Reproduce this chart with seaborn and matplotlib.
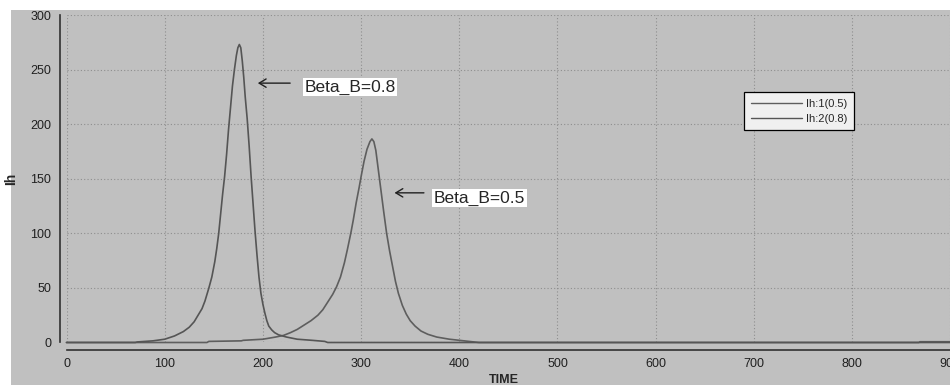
import numpy as np
import pandas as pd
import matplotlib
matplotlib.use("Agg")
import matplotlib.pyplot as plt
from matplotlib.patches import Rectangle
import seaborn as sns

# Valeurs
time_05 = [0, 143, 145, 178, 180, 200, 213, 221, 228, 235, 242, 249, 256, 261, 266, 271,
           275, 279, 283, 286, 289.5, 292, 295, 298, 300, 303, 306, 309, 311, 313, 315,
           317, 319, 321, 323, 326, 329, 332, 335, 338, 342, 346, 350, 355, 361, 368,
           377, 390, 405, 415, 420, 868, 869, 900]
ih_05 = [0, 0, 1, 1.5, 2, 3, 5, 6.5, 9, 12, 16, 20, 25, 30, 37, 44,
         51, 60, 73, 85, 100, 112, 128, 142, 152, 166, 177, 184, 186.5, 184, 176,
         162, 148, 134, 120, 100, 84, 70, 56, 45, 34, 26, 20, 15, 10.5, 7.5,
         5, 3, 1.5, 0.5, 0, 0, 0.7, 0.7]

time_08 = [0, 70, 72, 88, 100, 110, 119, 125, 130, 134, 138, 141, 145, 148, 151, 153,
           155, 157, 159, 161, 163, 165, 167, 169, 171, 173, 174.5, 176, 177.5, 179,
           180.5, 182, 184, 186, 188, 190, 192, 194, 196, 198, 200, 202, 204, 206,
           209, 212, 216, 224, 235, 250, 263, 266, 900]
ih_08 = [0, 0, 0.5, 1.5, 3, 6, 10, 14, 19, 25, 31, 38, 50, 60, 74, 86,
         100, 118, 136, 152, 172, 195, 215, 235, 250, 263, 270, 273, 270, 258,
         243, 225, 205, 180, 152, 127, 102, 80, 60, 45, 35, 27, 20, 15,
         11.5, 9, 7, 5, 3, 2, 1, 0, 0]

labels = ["Ih:1(0.5)", "Ih:2(0.8)"]

df = pd.concat([
    pd.DataFrame({"TIME": time_05, "Ih": ih_05, "serie": labels[0]}),
    pd.DataFrame({"TIME": time_08, "Ih": ih_08, "serie": labels[1]}),
])

sns.set_style("white")
plt.rcParams["font.family"] = ["Liberation Sans", "DejaVu Sans"]

fig = plt.figure(figsize=(9.5, 3.85), dpi=100, facecolor="white")
fig.add_artist(Rectangle((11 / 950, 0), 1, 1 - 10 / 385, transform=fig.transFigure,
                         facecolor="#c0c0c0", edgecolor="none", zorder=-10))
ax = fig.add_axes([0.07, 0.1104, 0.9303, 0.8506])
ax.set_facecolor("#c0c0c0")

sns.lineplot(data=df, x="TIME", y="Ih", hue="serie", palette=["#5e5e5e", "#555555"],
             sort=False, estimator=None, linewidth=1.2, ax=ax, clip_on=False)

ax.set_xlim(0, 900)
ax.set_ylim(0, 300)
ax.set_xticks(range(0, 901, 100))
ax.set_yticks(range(0, 301, 50))
ax.grid(True, color="#8e8e8e", linestyle=(0, (1, 2)), linewidth=0.8)
ax.set_axisbelow(True)

for s in ["top", "right"]:
    ax.spines[s].set_visible(False)
ax.spines["left"].set_position(("outward", 5))
ax.spines["bottom"].set_position(("outward", 5.5))
ax.spines["left"].set_color("#303030")
ax.spines["bottom"].set_color("#303030")
ax.spines["left"].set_linewidth(1.2)
ax.spines["bottom"].set_linewidth(1.2)
ax.tick_params(axis="both", direction="out", length=4, width=1, color="#303030",
               labelsize=9, labelcolor="#202020")
ax.tick_params(axis="x", pad=1.5)
ax.tick_params(axis="y", pad=2)

ax.set_xlabel("TIME", fontweight="bold", fontsize=9, labelpad=0)
ax.xaxis.set_label_coords(0.495, -0.095)
ax.set_ylabel("Ih", fontweight="bold", fontsize=10)
ax.yaxis.set_label_coords(-0.055, 0.5)

# Annotations
bbox = dict(boxstyle="square,pad=0.08", facecolor="white", edgecolor="none")
ax.annotate("", xy=(192, 237.6), xytext=(230.6, 237.6),
            arrowprops=dict(arrowstyle="->,head_length=0.5,head_width=0.3",
                            color="#202020", lw=1))
ax.text(242, 234, "Beta_B=0.8", fontsize=12.5, va="center", ha="left", bbox=bbox)
ax.annotate("", xy=(331.2, 137.1), xytext=(366.8, 137.1),
            arrowprops=dict(arrowstyle="->,head_length=0.5,head_width=0.3",
                            color="#202020", lw=1))
ax.text(374, 132, "Beta_B=0.5", fontsize=12.5, va="center", ha="left", bbox=bbox)

leg = ax.legend(loc="upper left", bbox_to_anchor=(744 / 950, 1 - 92 / 385),
                bbox_transform=fig.transFigure, title=None, fontsize=8,
                frameon=True, fancybox=False, borderaxespad=0, handlelength=4.6,
                handletextpad=0.4, labelspacing=0.45, borderpad=0.6)
leg.get_frame().set_facecolor("#f0f0f0")
leg.get_frame().set_edgecolor("black")
leg.get_frame().set_linewidth(0.9)
leg.get_frame().set_alpha(1)
for ln in leg.get_lines():
    ln.set_linewidth(1)

fig.savefig("out.png", dpi=100, facecolor=fig.get_facecolor())
